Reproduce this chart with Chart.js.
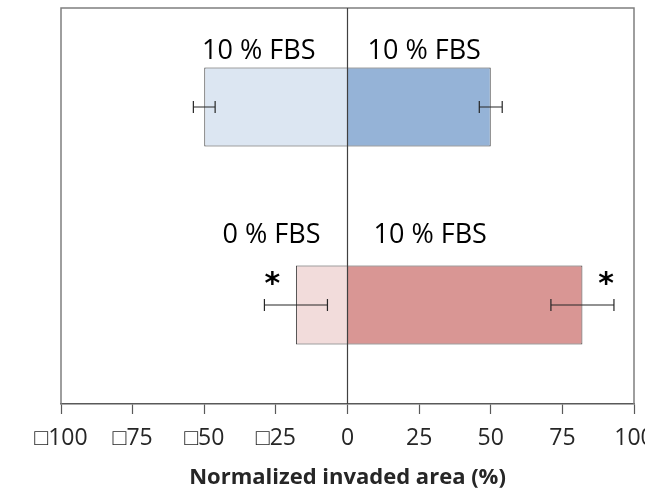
<!DOCTYPE html>
<html>
<head>
<meta charset="utf-8">
<script src="https://cdn.jsdelivr.net/npm/chart.js@4.4.1/dist/chart.umd.min.js"></script>
<style>
  html, body { margin: 0; padding: 0; background: #fff; }
  #wrap { width: 645px; height: 491px; }
</style>
</head>
<body>
<div id="wrap"><canvas id="invasionChart" width="645" height="491"></canvas></div>
<script>
// data
const categories = ['10 % FBS | 10 % FBS', '0 % FBS | 10 % FBS'];
const leftValues = [-50, -18];
const rightValues = [50, 82];
const leftErrors = [3.8, 11];
const rightErrors = [4, 11];
const leftLabels = ['10 % FBS', '0 % FBS'];
const rightLabels = ['10 % FBS', '10 % FBS'];
const leftSignificant = [false, true];
const rightSignificant = [false, true];
const tickValues = [-100, -75, -50, -25, 0, 25, 50, 75, 100];
const tickLabels = ['\u25A1100', '\u25A175', '\u25A150', '\u25A125', '0', '25', '50', '75', '100'];

// colours
const leftColors = ['#DCE6F2', '#F2DCDB'];
const rightColors = ['#95B3D7', '#D99694'];

// label placement (pixels)
const labelGapAbove = [9, 23];
const leftLabelGap = [32, 27];
const rightLabelGap = [20, 26];

const overlay = {
  id: 'overlay',
  afterDatasetsDraw(chart) {
    const { ctx, chartArea: a, scales: { x } } = chart;
    const leftMeta = chart.getDatasetMeta(0);
    const rightMeta = chart.getDatasetMeta(1);
    ctx.save();

    // frame
    ctx.strokeStyle = '#7f7f7f';
    ctx.lineWidth = 1.5;
    ctx.beginPath();
    ctx.moveTo(a.left, a.bottom);
    ctx.lineTo(a.left, a.top);
    ctx.lineTo(a.right, a.top);
    ctx.lineTo(a.right, a.bottom);
    ctx.stroke();

    // zero line
    const x0 = x.getPixelForValue(0);
    ctx.strokeStyle = '#404040';
    ctx.lineWidth = 1.2;
    ctx.beginPath();
    ctx.moveTo(x0, a.top);
    ctx.lineTo(x0, a.bottom);
    ctx.stroke();

    // error bars
    const drawErr = (val, err, yc) => {
      const x1 = x.getPixelForValue(val - err);
      const x2 = x.getPixelForValue(val + err);
      ctx.strokeStyle = '#262626';
      ctx.lineWidth = 1.2;
      ctx.beginPath();
      ctx.moveTo(x1, yc); ctx.lineTo(x2, yc);
      ctx.moveTo(x1, yc - 6); ctx.lineTo(x1, yc + 6);
      ctx.moveTo(x2, yc - 6); ctx.lineTo(x2, yc + 6);
      ctx.stroke();
    };

    categories.forEach((c, i) => {
      const lb = leftMeta.data[i];
      const rb = rightMeta.data[i];
      const yc = lb.y;
      const top = yc - lb.height / 2;
      drawErr(leftValues[i], leftErrors[i], yc);
      drawErr(rightValues[i], rightErrors[i], rb.y);

      // condition labels
      ctx.fillStyle = '#000';
      ctx.font = '27px "Open Sans"';
      ctx.textBaseline = 'bottom';
      ctx.textAlign = 'right';
      ctx.fillText(leftLabels[i], x0 - leftLabelGap[i], top - labelGapAbove[i] + 6);
      ctx.textAlign = 'left';
      ctx.fillText(rightLabels[i], x0 + rightLabelGap[i], top - labelGapAbove[i] + 6);

      // significance
      ctx.font = 'bold 30px "DejaVu Sans"';
      ctx.textBaseline = 'middle';
      if (leftSignificant[i]) {
        ctx.textAlign = 'left';
        ctx.fillText('*', x.getPixelForValue(leftValues[i] - leftErrors[i]), yc - 20);
      }
      if (rightSignificant[i]) {
        ctx.textAlign = 'right';
        ctx.fillText('*', x.getPixelForValue(rightValues[i] + rightErrors[i]), yc - 20);
      }
    });
    ctx.restore();
  }
};

const ctx = document.getElementById('invasionChart').getContext('2d');
new Chart(ctx, {
  type: 'bar',
  data: {
    labels: categories,
    datasets: [
      { label: 'left', data: leftValues, backgroundColor: leftColors, borderColor: '#404040', borderWidth: 1 },
      { label: 'right', data: rightValues, backgroundColor: rightColors, borderColor: '#404040', borderWidth: 1 }
    ]
  },
  options: {
    indexAxis: 'y',
    responsive: false,
    devicePixelRatio: 1,
    animation: false,
    layout: { padding: { left: 61, right: 11, top: 8, bottom: 0 } },
    datasets: { bar: { barPercentage: 1, categoryPercentage: 0.4 } },
    plugins: { legend: { display: false }, tooltip: { enabled: false } },
    scales: {
      y: { display: false, stacked: true },
      x: {
        stacked: true,
        min: -100,
        max: 100,
        afterFit(scale) { scale.paddingLeft = 0; scale.paddingRight = 0; },
        afterBuildTicks(scale) {
          scale.ticks = tickValues.map(v => ({ value: v }));
        },
        ticks: {
          autoSkip: false,
          maxRotation: 0,
          padding: 11,
          color: '#262626',
          font: { family: 'Open Sans', size: 23 },
          callback: (v, i) => tickLabels[i]
        },
        grid: { drawOnChartArea: false, tickLength: 10, tickColor: '#595959', tickWidth: 1.2 },
        border: { color: '#595959', width: 1.5 },
        title: {
          display: true,
          text: 'Normalized invaded area (%)',
          color: '#262626',
          font: { family: 'Open Sans', size: 22, weight: 'bold' },
          padding: { top: 1, bottom: 0 }
        }
      }
    }
  },
  plugins: [overlay]
});
</script>
</body>
</html>
